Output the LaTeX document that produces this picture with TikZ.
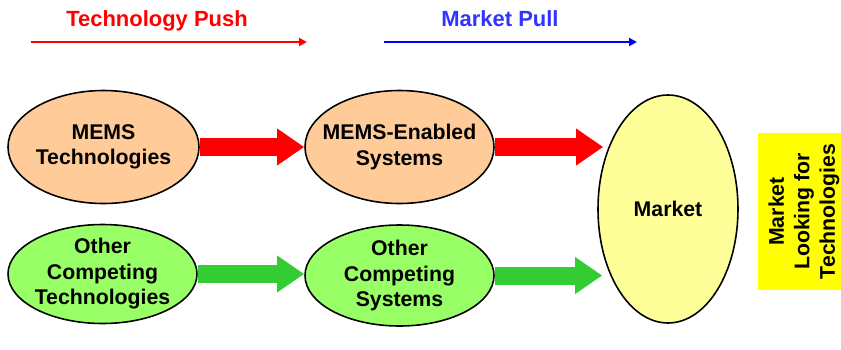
\documentclass[tikz,border=0pt]{standalone}
\usepackage{fontspec}
\setmainfont{Liberation Sans}
\usepackage{tikz}
\usetikzlibrary{shapes, arrows.meta}
\tikzstyle{blob} = [ellipse, draw, line width=0.9pt, text centered, align=center, inner sep=-0.6cm, font=\bfseries\fontsize{12.1}{14.5}\selectfont]
\tikzstyle{fat} = [draw, line width=0.36cm, -{Triangle[length=0.54cm, width=0.7cm]}]
\tikzstyle{thin} = [draw, line width=1.1pt, -{Triangle[length=0.16cm, width=0.16cm]}]
\tikzstyle{head} = [anchor=base, font=\bfseries\fontsize{12.5}{15}\selectfont]

\begin{document}
\begin{tikzpicture}
\useasboundingbox (0,0) rectangle (16.82,-6.98);

\node [head, color={rgb,255: red, 255; green, 0; blue, 0}] at (3.14,-0.52) (push) {Technology Push};
\node [head, color={rgb,255: red, 51; green, 51; blue, 255}] at (10.0,-0.52) (pull) {Market Pull};

\coordinate (push_a) at (0.62,-0.84);
\coordinate (push_b) at (6.14,-0.84);
\coordinate (pull_a) at (7.68,-0.84);
\coordinate (pull_b) at (12.74,-0.84);

\node [blob, fill={rgb,255: red, 255; green, 204; blue, 153}, minimum width=3.82cm, minimum height=2.26cm] at (2.07,-2.94) (tech_1) {MEMS\\Technologies};
\node [blob, fill={rgb,255: red, 255; green, 204; blue, 153}, minimum width=3.78cm, minimum height=2.26cm] at (7.99,-2.94) (sys_1) {MEMS-Enabled\\Systems};

\node [blob, fill={rgb,255: red, 153; green, 255; blue, 102}, minimum width=3.78cm, minimum height=1.98cm] at (2.05,-5.48) (tech_2) {Other\\Competing\\Technologies};
\node [blob, fill={rgb,255: red, 153; green, 255; blue, 102}, minimum width=3.78cm, minimum height=2.02cm] at (7.99,-5.51) (sys_2) {Other\\Competing\\Systems};

\node [blob, fill={rgb,255: red, 255; green, 255; blue, 153}, minimum width=2.8cm, minimum height=4.56cm] at (13.36,-4.18) (market) {Market};

\node [rectangle, fill={rgb,255: red, 255; green, 255; blue, 0}, rotate=90, align=center, minimum width=3.14cm, minimum height=1.84cm, inner sep=0pt, font=\bfseries\fontsize{12.1}{14.5}\selectfont] at (16.08,-4.23) (lookbox) {Market\\Looking for\\Technologies};

\path [thin, color={rgb,255: red, 255; green, 0; blue, 0}] (push_a) -- (push_b);
\path [thin, color={rgb,255: red, 0; green, 0; blue, 255}] (pull_a) -- (pull_b);

\path [fat, color={rgb,255: red, 255; green, 0; blue, 0}] (tech_1.east) -- (sys_1.west);
\path [fat, color={rgb,255: red, 255; green, 0; blue, 0}, shorten >=-0.12cm] (sys_1.east) -- (sys_1.east -| market.west);

\path [fat, color={rgb,255: red, 51; green, 204; blue, 51}] (tech_2.east) -- (tech_2.east -| sys_2.west);
\path [fat, color={rgb,255: red, 51; green, 204; blue, 51}, shorten >=-0.1cm] (sys_2.east) -- (sys_2.east -| market.west);

\end{tikzpicture}
\end{document}
